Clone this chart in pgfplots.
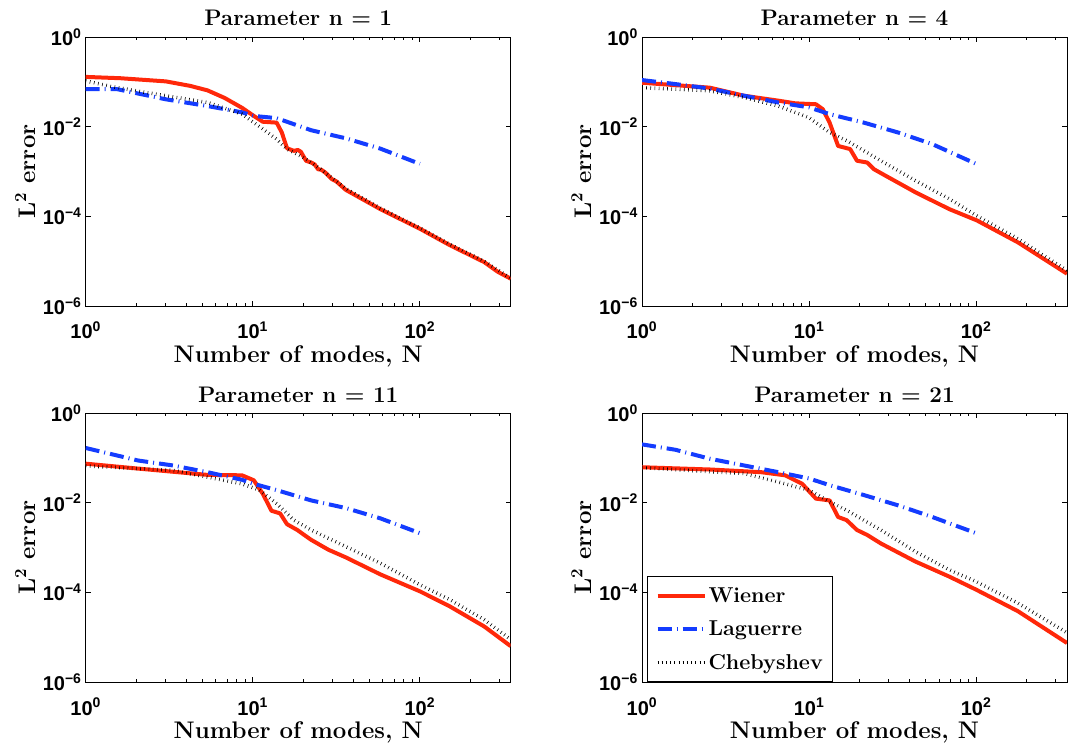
\documentclass[border=0pt]{standalone}
\usepackage{fontspec}
\usepackage{pgfplots}
\pgfplotsset{compat=1.18}
\usepackage{pgfplotstable}
\newfontfamily\tickfont{Liberation Sans}
\definecolor{wred}{RGB}{255,40,10}
\definecolor{lblue}{RGB}{20,60,255}
\newcommand\tk[1]{{\tickfont\bfseries 10\textsuperscript{#1}}}
\newcommand\tickf{\fontsize{20}{24}\selectfont}
\newcommand\titf{\fontsize{22.5}{27}\selectfont\bfseries}
\newcommand\labf{\fontsize{24}{29}\selectfont\bfseries}
\newcommand\legf{\fontsize{21.5}{26}\selectfont\bfseries}

\pgfplotstableread{
lx ly
0 -0.89
0.21 -0.92
0.48 -0.99
0.625 -1.09
0.729 -1.19
0.832 -1.36
0.936 -1.58
1.006 -1.76
1.06 -1.89
1.143 -1.91
1.174 -2.13
1.205 -2.48
1.246 -2.54
1.27 -2.52
1.288 -2.56
1.319 -2.76
1.35 -2.80
1.37 -2.84
1.391 -2.95
1.41 -2.96
1.433 -3.02
1.474 -3.17
1.5 -3.22
1.557 -3.41
1.764 -3.84
2.002 -4.28
2.178 -4.64
2.385 -5.02
2.468 -5.24
2.544 -5.39
}\TLW
\pgfplotstableread{
lx ly
0 -1.165
0.19 -1.165
0.48 -1.39
0.729 -1.54
0.936 -1.68
1.006 -1.76
1.143 -1.81
1.35 -2.08
1.557 -2.26
1.764 -2.49
2.0 -2.83
}\TLL
\pgfplotstableread{
lx ly
0 -0.98
0.15 -1.1
0.3 -1.2
0.48 -1.31
0.729 -1.46
0.936 -1.72
1.06 -2.05
1.143 -2.28
1.205 -2.5
1.3 -2.68
1.4 -2.93
1.557 -3.38
1.764 -3.82
2.0 -4.26
2.178 -4.62
2.385 -5.0
2.468 -5.2
2.544 -5.38
}\TLC
\pgfplotstableread{
lx ly
0 -1.02
0.406 -1.13
0.611 -1.31
0.816 -1.42
0.918 -1.48
1.041 -1.50
1.082 -1.61
1.123 -1.91
1.174 -2.43
1.246 -2.50
1.287 -2.76
1.348 -2.80
1.389 -2.95
1.451 -3.08
1.635 -3.46
1.84 -3.84
2.004 -4.09
2.25 -4.58
2.544 -5.28
}\TRW
\pgfplotstableread{
lx ly
0 -0.96
0.2 -1.05
0.406 -1.15
0.611 -1.31
0.816 -1.46
1.0 -1.57
1.123 -1.72
1.328 -1.91
1.533 -2.13
1.738 -2.39
2.0 -2.83
}\TRL
\pgfplotstableread{
lx ly
0 -1.13
0.406 -1.2
0.611 -1.35
0.816 -1.54
1.0 -1.8
1.123 -2.13
1.225 -2.31
1.43 -2.76
1.635 -3.2
1.84 -3.61
2.0 -3.98
2.25 -4.5
2.544 -5.21
}\TRC
\pgfplotstableread{
lx ly
0 -1.13
0.314 -1.24
0.729 -1.38
0.936 -1.39
1.006 -1.50
1.06 -1.80
1.112 -2.18
1.164 -2.24
1.205 -2.48
1.267 -2.61
1.308 -2.72
1.35 -2.83
1.453 -3.05
1.557 -3.22
1.764 -3.6
2.002 -3.98
2.178 -4.31
2.385 -4.76
2.544 -5.2
}\BLW
\pgfplotstableread{
lx ly
0 -0.78
0.314 -1.06
0.522 -1.17
0.729 -1.32
0.936 -1.49
1.006 -1.58
1.143 -1.72
1.35 -1.95
1.557 -2.12
1.764 -2.35
2.0 -2.68
}\BLL
\pgfplotstableread{
lx ly
0 -1.18
0.522 -1.28
0.729 -1.43
0.936 -1.58
1.04 -1.72
1.143 -2.02
1.246 -2.39
1.35 -2.61
1.557 -2.98
1.764 -3.35
2.0 -3.83
2.178 -4.16
2.385 -4.61
2.544 -5.05
}\BLC
\pgfplotstableread{
lx ly
0 -1.21
0.406 -1.26
0.713 -1.32
0.857 -1.39
0.959 -1.58
1.041 -1.91
1.123 -1.95
1.174 -2.32
1.225 -2.39
1.287 -2.61
1.348 -2.72
1.43 -2.91
1.635 -3.31
1.84 -3.65
2.0 -3.94
2.25 -4.42
2.544 -5.13
}\BRW
\pgfplotstableread{
lx ly
0 -0.70
0.2 -0.82
0.406 -1.02
0.611 -1.17
0.816 -1.32
1.0 -1.46
1.123 -1.61
1.328 -1.83
1.533 -2.06
1.738 -2.32
2.0 -2.68
}\BRL
\pgfplotstableread{
lx ly
0 -1.22
0.611 -1.35
0.816 -1.54
1.0 -1.72
1.123 -1.98
1.225 -2.17
1.43 -2.61
1.635 -3.09
1.84 -3.5
2.0 -3.76
2.25 -4.24
2.544 -4.9
}\BRC

\tikzset{
 wst/.style={wred, line width=4pt, line join=round},
 lst/.style={lblue, line width=4pt, dash pattern=on 14pt off 5pt on 1pt off 5pt},
 cst/.style={black, line width=3.5pt, dash pattern=on 0.6pt off 3.6pt},
}
\pgfplotsset{
 myaxis/.style={
  scale only axis, width=425pt, height=269pt,
  anchor=south west,
  xmin=1, xmax=350, ymin=1e-6, ymax=1,
  axis line style={line width=0.8pt},
  every tick/.style={black, line width=0.7pt},
  tick align=inside, major tick length=5pt, minor tick length=3pt,
  xtick={1,10,100}, xticklabels={\tk{0},\tk{1},\tk{2}},
  minor xtick={2,3,4,5,6,7,8,9,20,30,40,50,60,70,80,90,200,300},
  ytick={1,1e-2,1e-4,1e-6}, yticklabels={\tk{0},\tk{−2},\tk{−4},\tk{−6}},
  yminorticks=false,
  xticklabel style={anchor=base, yshift=-33pt, inner sep=0pt, font=\tickf},
  yticklabel style={anchor=east, xshift=-4pt, inner sep=0pt, font=\tickf},
  title style={at={(axis description cs:0.5,1)}, anchor=base, yshift=5pt, font=\titf},
  xlabel style={at={(axis description cs:0.5,0)}, anchor=base, yshift=-56pt, font=\labf},
  ylabel style={at={(axis description cs:-0.119,0.5)}, anchor=base, font=\labf},
  xlabel={Number of modes, N}, ylabel={L\textsuperscript{2} error},
 },
}

\begin{document}
\begin{tikzpicture}
\useasboundingbox (0,0) rectangle (1074pt,742pt);
\begin{loglogaxis}[myaxis, at={(85.7pt,436pt)}, title={Parameter n = 1}]
\addplot[wst] table[x expr=10^\thisrow{lx}, y expr=10^\thisrow{ly}] {\TLW};
\addplot[lst] table[x expr=10^\thisrow{lx}, y expr=10^\thisrow{ly}] {\TLL};
\addplot[cst] table[x expr=10^\thisrow{lx}, y expr=10^\thisrow{ly}] {\TLC};
\end{loglogaxis}
\begin{loglogaxis}[myaxis, at={(642pt,436pt)}, title={Parameter n = 4}]
\addplot[wst] table[x expr=10^\thisrow{lx}, y expr=10^\thisrow{ly}] {\TRW};
\addplot[lst] table[x expr=10^\thisrow{lx}, y expr=10^\thisrow{ly}] {\TRL};
\addplot[cst] table[x expr=10^\thisrow{lx}, y expr=10^\thisrow{ly}] {\TRC};
\end{loglogaxis}
\begin{loglogaxis}[myaxis, at={(85.7pt,60pt)}, title={Parameter n = 11}]
\addplot[wst] table[x expr=10^\thisrow{lx}, y expr=10^\thisrow{ly}] {\BLW};
\addplot[lst] table[x expr=10^\thisrow{lx}, y expr=10^\thisrow{ly}] {\BLL};
\addplot[cst] table[x expr=10^\thisrow{lx}, y expr=10^\thisrow{ly}] {\BLC};
\end{loglogaxis}
\begin{loglogaxis}[myaxis, at={(642pt,60pt)}, title={Parameter n = 21},
  legend style={at={(axis description cs:0.012,0)}, anchor=south west, draw=black, line width=0.8pt,
    font=\legf, row sep=13pt, inner xsep=8pt, inner ysep=9pt},
  legend cell align=left,
  legend image code/.code={\draw[#1] (0pt,0pt) -- (47pt,0pt);}]
\addplot[wst] table[x expr=10^\thisrow{lx}, y expr=10^\thisrow{ly}] {\BRW};
\addlegendentry{Wiener}
\addplot[lst] table[x expr=10^\thisrow{lx}, y expr=10^\thisrow{ly}] {\BRL};
\addlegendentry{Laguerre}
\addplot[cst] table[x expr=10^\thisrow{lx}, y expr=10^\thisrow{ly}] {\BRC};
\addlegendentry{Chebyshev}
\end{loglogaxis}
\end{tikzpicture}
\end{document}
